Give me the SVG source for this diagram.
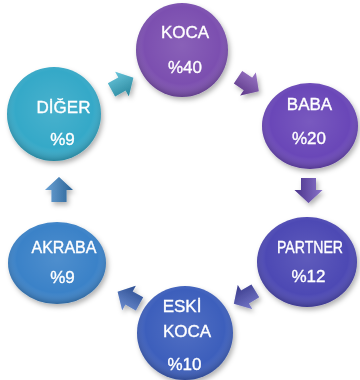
<svg xmlns="http://www.w3.org/2000/svg" width="360" height="380" viewBox="0 0 360 380">
  <defs>
    <radialGradient id="shade" cx="0.5" cy="0.45" r="0.55">
      <stop offset="0" stop-color="#ffffff" stop-opacity="0.10"/>
      <stop offset="0.75" stop-color="#ffffff" stop-opacity="0"/>
      <stop offset="1" stop-color="#000000" stop-opacity="0.22"/>
    </radialGradient>
    <linearGradient id="arrowShade" x1="0" y1="0" x2="0" y2="1">
      <stop offset="0" stop-color="#ffffff" stop-opacity="0.25"/>
      <stop offset="1" stop-color="#000000" stop-opacity="0.25"/>
    </linearGradient>
    <filter id="shadow" x="-20%" y="-20%" width="150%" height="150%">
      <feDropShadow dx="2" dy="3" stdDeviation="2.5" flood-color="#000000" flood-opacity="0.3"/>
    </filter>
    <polygon id="arrow" points="-12,-7.5 0,-7.5 0,-14 13,0 0,14 0,7.5 -12,7.5"/>
  </defs>
  <style>
    text { font-family: "Liberation Sans", Arial, sans-serif; font-size: 17px; fill: #ffffff; stroke: #ffffff; stroke-width: 0.35; text-anchor: middle; }
    .ov { fill: url(#shade); }
  </style>

  <g id="connectors" filter="url(#shadow)">
    <g transform="translate(122,84) rotate(-29)"><use href="#arrow" fill="#36b2cf"/><use href="#arrow" fill="url(#arrowShade)"/></g>
    <g transform="translate(248,84) rotate(34)"><use href="#arrow" fill="#7a4ab4"/><use href="#arrow" fill="url(#arrowShade)"/></g>
    <g transform="translate(308.5,190) rotate(90)"><use href="#arrow" fill="#6244b8"/><use href="#arrow" fill="url(#arrowShade)"/></g>
    <g transform="translate(245,297) rotate(149)"><use href="#arrow" fill="#4a4cb8"/><use href="#arrow" fill="url(#arrowShade)"/></g>
    <g transform="translate(129,298) rotate(-151)"><use href="#arrow" fill="#3a66c0"/><use href="#arrow" fill="url(#arrowShade)"/></g>
    <g transform="translate(59,190) rotate(-90)"><use href="#arrow" fill="#3a84c8"/><use href="#arrow" fill="url(#arrowShade)"/></g>
  </g>

  <g id="koca">
    <ellipse cx="182" cy="50" rx="46" ry="47" fill="#7b50b0" filter="url(#shadow)"/>
    <ellipse class="ov" cx="182" cy="50" rx="46" ry="47"/>
    <text x="185" y="38">KOCA</text>
    <text x="185" y="73">%40</text>
  </g>

  <g id="baba">
    <ellipse cx="310" cy="126" rx="48" ry="43" fill="#6a46b8" filter="url(#shadow)"/>
    <ellipse class="ov" cx="310" cy="126" rx="48" ry="43"/>
    <text x="309.5" y="110">BABA</text>
    <text x="309" y="144">%20</text>
  </g>

  <g id="partner">
    <ellipse cx="307" cy="262" rx="50" ry="45" fill="#4d48b4" filter="url(#shadow)"/>
    <ellipse class="ov" cx="307" cy="262" rx="50" ry="45"/>
    <text x="310" y="253" style="font-size:16px" textLength="66" lengthAdjust="spacingAndGlyphs">PARTNER</text>
    <text x="308.5" y="282">%12</text>
  </g>

  <g id="eski-koca">
    <ellipse cx="185" cy="333" rx="48" ry="47" fill="#3d5fbc" filter="url(#shadow)"/>
    <ellipse class="ov" cx="185" cy="333" rx="48" ry="47"/>
    <text x="182" y="312">ESKİ</text>
    <text x="187" y="337">KOCA</text>
    <text x="184.5" y="370">%10</text>
  </g>

  <g id="akraba">
    <ellipse cx="57" cy="263" rx="49" ry="41" fill="#3b82c8" filter="url(#shadow)"/>
    <ellipse class="ov" cx="57" cy="263" rx="49" ry="41"/>
    <text x="64" y="253" textLength="65" lengthAdjust="spacingAndGlyphs">AKRABA</text>
    <text x="62.5" y="283">%9</text>
  </g>

  <g id="diger">
    <ellipse cx="54" cy="114" rx="47" ry="47" fill="#34a9c8" filter="url(#shadow)"/>
    <ellipse class="ov" cx="54" cy="114" rx="47" ry="47"/>
    <text x="63.5" y="113">DİĞER</text>
    <text x="62.5" y="145">%9</text>
  </g>
</svg>
